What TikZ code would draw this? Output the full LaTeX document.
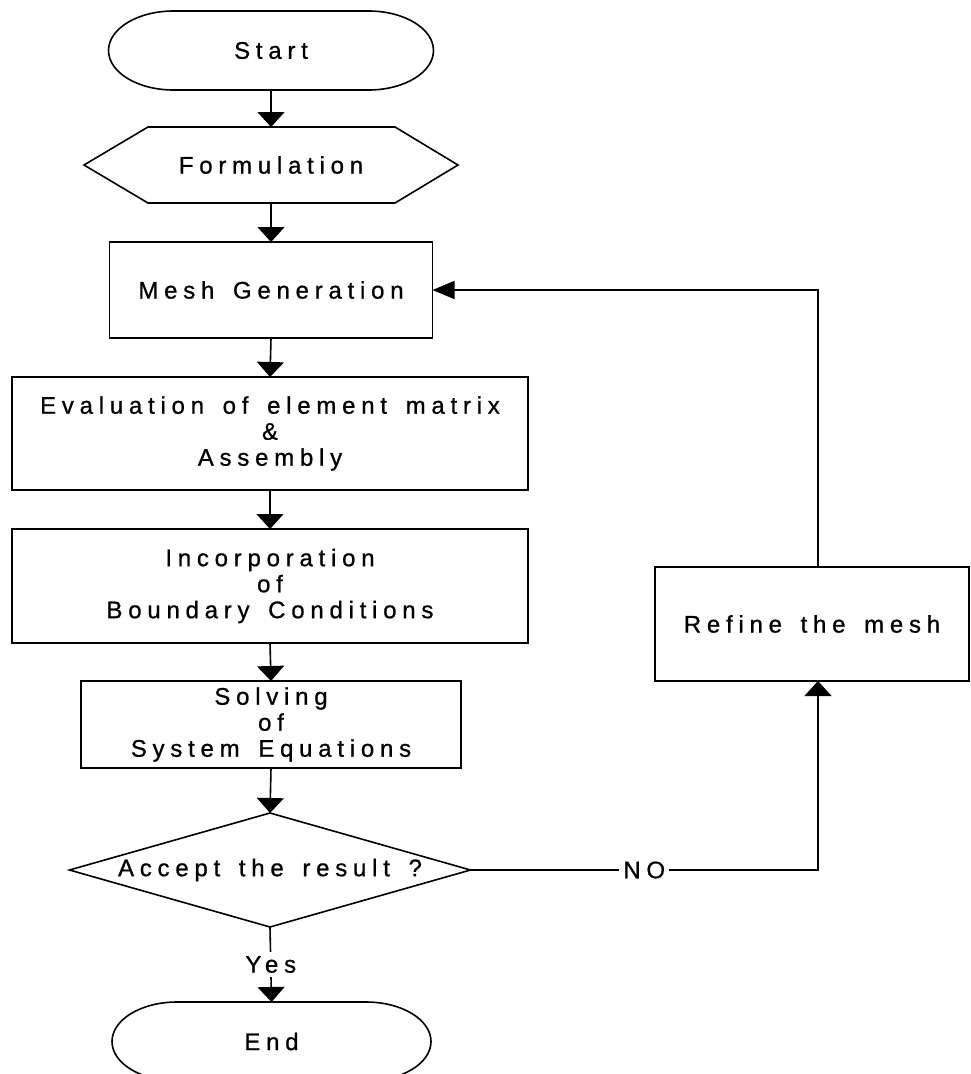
\documentclass[tikz,border=0pt]{standalone}
\usepackage{fontspec}
\setmainfont{Liberation Sans}[LetterSpace=24,WordSpace=1.5,FakeBold=0.8]
\usetikzlibrary{arrows.meta}
\begin{document}
\begin{tikzpicture}[x=1pt,y=-1pt,line width=1.6pt,
  font=\fontsize{24}{26}\selectfont,
  shp/.style={rectangle,outer sep=0pt,inner sep=0pt,align=center},
  box/.style={shp,draw},
  arr/.style={-{Triangle[length=15pt,width=27pt]}},
  arrl/.style={-{Triangle[length=22pt,width=18pt]}},
  lbl/.style={fill=white,inner sep=4pt}]
\clip (0,0) rectangle (970,1074);
\fill[white] (0,0) rectangle (970,1074);
% nodes
\node[shp,minimum width=325pt,minimum height=79pt] (start) at (271,50.5) {Start};
\node[shp,minimum width=374pt,minimum height=76pt] (form) at (271,165) {Formulation};
\node[box,minimum width=323pt,minimum height=96pt] (mesh) at (271,290) {Mesh Generation};
\node[box,minimum width=516pt,minimum height=113pt] (eval) at (270,433.5) {Evaluation of element matrix\\ \&\\ Assembly};
\node[box,minimum width=516pt,minimum height=114pt] (inc) at (270,586) {Incorporation\\ of\\ Boundary Conditions};
\node[box,minimum width=380pt,minimum height=87pt] (solve) at (271,724.5) {Solving\\ of\\ System Equations};
\node[shp,minimum width=401pt,minimum height=114pt] (dec) at (270,870) {Accept the result ?};
\node[shp,minimum width=319pt,minimum height=79pt] (endn) at (271.5,1041.5) {End};
\node[box,minimum width=314pt,minimum height=114pt] (refine) at (812,624) {Refine the mesh};
% shapes drawn from node anchors
\draw ([xshift=65pt]start.north west) -- ([xshift=-65pt]start.north east)
  arc[start angle=90,end angle=-90,x radius=65pt,y radius=39.5pt]
  -- ([xshift=65pt]start.south west)
  arc[start angle=270,end angle=90,x radius=65pt,y radius=39.5pt] -- cycle;
\draw ([xshift=65pt]endn.north west) -- ([xshift=-65pt]endn.north east)
  arc[start angle=90,end angle=-90,x radius=65pt,y radius=39.5pt]
  -- ([xshift=65pt]endn.south west)
  arc[start angle=270,end angle=90,x radius=65pt,y radius=39.5pt] -- cycle;
\draw (form.west) -- ([xshift=64pt]form.north west) -- ([xshift=-63pt]form.north east)
  -- (form.east) -- ([xshift=-63pt]form.south east) -- ([xshift=64pt]form.south west) -- cycle;
\draw (dec.west) -- (dec.north) -- (dec.east) -- (dec.south) -- cycle;
% connectors
\draw[arr] (start.south) -- (form.north);
\draw[arr] (form.south) -- (mesh.north);
\draw[arr] (mesh.south) -- (eval.north);
\draw[arr] (eval.south) -- (inc.north);
\draw[arr] (inc.south) -- (solve.north);
\draw[arr] (solve.south) -- (dec.north);
\draw[arr] (dec.south) -- node[lbl] {Yes} (endn.north);
\draw[arr] (dec.east) -- node[lbl] {NO} ([xshift=6pt]dec.east -| refine.south) -- ([xshift=6pt]refine.south);
\draw[arrl] ([xshift=6pt]refine.north) |- (mesh.east);
\end{tikzpicture}
\end{document}
